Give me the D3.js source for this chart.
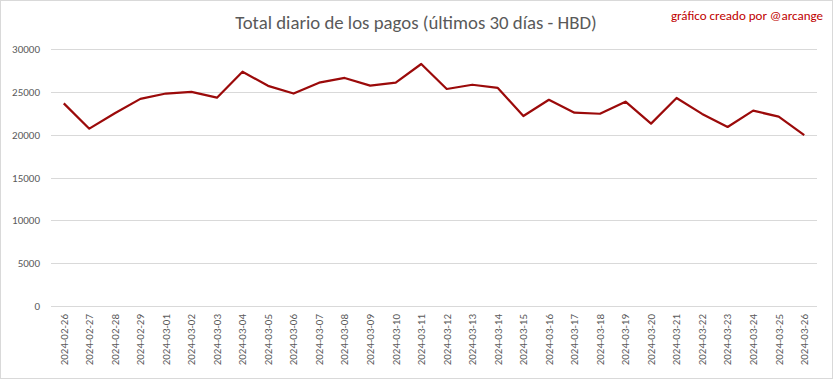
<!DOCTYPE html>
<html><head><meta charset="utf-8">
<script src="https://cdn.jsdelivr.net/npm/d3@7"></script>
<style>
html,body{margin:0;padding:0;background:#fff;}
svg{display:block;}
</style></head>
<body>
<script>
const dates = ["2024-02-26","2024-02-27","2024-02-28","2024-02-29","2024-03-01","2024-03-02","2024-03-03","2024-03-04","2024-03-05","2024-03-06","2024-03-07","2024-03-08","2024-03-09","2024-03-10","2024-03-11","2024-03-12","2024-03-13","2024-03-14","2024-03-15","2024-03-16","2024-03-17","2024-03-18","2024-03-19","2024-03-20","2024-03-21","2024-03-22","2024-03-23","2024-03-24","2024-03-25","2024-03-26"];
const totals = [23650,20700,22500,24180,24800,25000,24320,27350,25700,24800,26070,26620,25720,26070,28250,25330,25830,25460,22180,24070,22570,22440,23850,21290,24280,22420,20900,22800,22100,19950];
const yTicks = [0,5000,10000,15000,20000,25000,30000];
const titleText = "Total diario de los pagos (últimos 30 días - HBD)";
const creditText = "gráfico creado por @arcange";

const W = 833, H = 379;
const svg = d3.select("body").append("svg").attr("width", W).attr("height", H);
svg.append("rect").attr("x",0.5).attr("y",0.5).attr("width",W-1).attr("height",H-1)
  .attr("fill","#fff").attr("stroke","#d9d9d9");

const x = d3.scaleBand().domain(dates).range([51, 817]);
const y = d3.scaleLinear().domain([0,30000]).range([306, 49]);
const font = "Calibri, Carlito, 'Open Sans', 'Liberation Sans', sans-serif";

// gridlines
svg.append("g").selectAll("line").data(yTicks).join("line")
  .attr("x1",51).attr("x2",817)
  .attr("y1",d=>Math.round(y(d))+0.5).attr("y2",d=>Math.round(y(d))+0.5)
  .attr("stroke","#d9d9d9").attr("stroke-width",1);

// y axis labels
const yAxis = d3.axisLeft(y).tickValues(yTicks).tickSize(0).tickPadding(0).tickFormat(d3.format("d"));
const gy = svg.append("g").attr("transform","translate(40,0)").call(yAxis);
gy.select(".domain").remove();
gy.selectAll("text").attr("fill","#595959").style("font-family",font).style("font-size","11px");

// x axis labels
const xAxis = d3.axisBottom(x).tickSize(0).tickPadding(0);
const gx = svg.append("g").attr("transform","translate(0,312)").call(xAxis);
gx.select(".domain").remove();
gx.selectAll("text")
  .attr("fill","#595959").style("font-family",font).style("font-size","11px")
  .attr("transform","rotate(-90)").attr("text-anchor","end")
  .attr("x",-2).attr("y",0).attr("dy","0.35em");

// line
const line = d3.line().x((d,i)=>x(dates[i])+x.bandwidth()/2).y(d=>y(d));
svg.append("path").datum(totals).attr("d",line)
  .attr("fill","none").attr("stroke","#9b0a0a").attr("stroke-width",2.2)
  .attr("stroke-linejoin","round");

// title
svg.append("text").attr("x",416).attr("y",29).attr("text-anchor","middle")
  .attr("fill","#595959").style("font-family",font).style("font-size","18.8px").style("font-weight","300").text(titleText);
svg.append("text").attr("x",823).attr("y",20).attr("text-anchor","end")
  .attr("fill","#c00000").style("font-family",font).style("font-size","13px").text(creditText);
</script>
</body></html>
